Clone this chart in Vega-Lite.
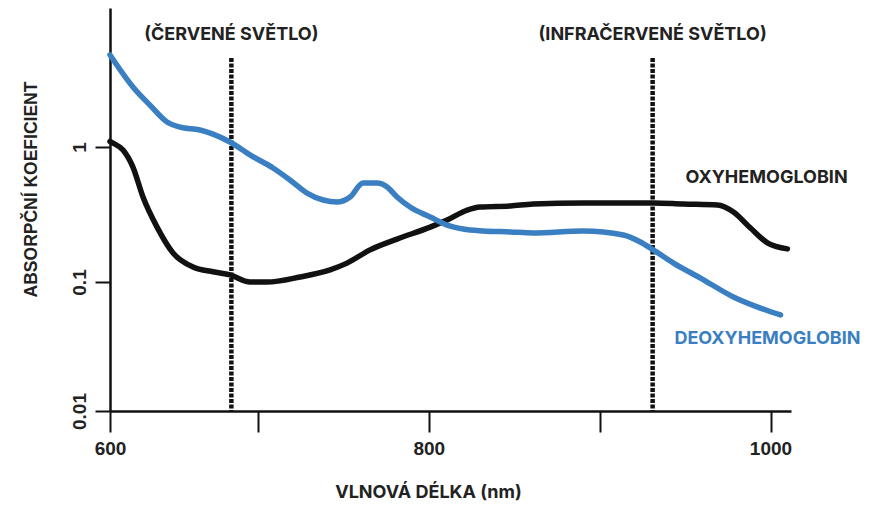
{
  "$schema": "https://vega.github.io/schema/vega-lite/v6.json",
  "width": 681,
  "height": 403,
  "autosize": "none",
  "padding": {"left": 110, "top": 8, "right": 95, "bottom": 96},
  "background": "white",
  "config": {"view": {"stroke": null}},
  "datasets": {
    "curves": [
      {"wavelength": 600, "absorbance": 1.10, "series": "Oxy"},
      {"wavelength": 602, "absorbance": 1.07, "series": "Oxy"},
      {"wavelength": 608.8, "absorbance": 0.95, "series": "Oxy"},
      {"wavelength": 615.5, "absorbance": 0.71, "series": "Oxy"},
      {"wavelength": 622.3, "absorbance": 0.426, "series": "Oxy"},
      {"wavelength": 631.8, "absorbance": 0.255, "series": "Oxy"},
      {"wavelength": 642.6, "absorbance": 0.164, "series": "Oxy"},
      {"wavelength": 656.1, "absorbance": 0.129, "series": "Oxy"},
      {"wavelength": 669.6, "absorbance": 0.119, "series": "Oxy"},
      {"wavelength": 681.1, "absorbance": 0.113, "series": "Oxy"},
      {"wavelength": 694.6, "absorbance": 0.100, "series": "Oxy"},
      {"wavelength": 705.3, "absorbance": 0.100, "series": "Oxy"},
      {"wavelength": 724.6, "absorbance": 0.109, "series": "Oxy"},
      {"wavelength": 742.2, "absorbance": 0.123, "series": "Oxy"},
      {"wavelength": 752.1, "absorbance": 0.138, "series": "Oxy"},
      {"wavelength": 765.6, "absorbance": 0.173, "series": "Oxy"},
      {"wavelength": 781.4, "absorbance": 0.208, "series": "Oxy"},
      {"wavelength": 800.8, "absorbance": 0.255, "series": "Oxy"},
      {"wavelength": 810.7, "absorbance": 0.288, "series": "Oxy"},
      {"wavelength": 822.5, "absorbance": 0.341, "series": "Oxy"},
      {"wavelength": 830, "absorbance": 0.359, "series": "Oxy"},
      {"wavelength": 847.7, "absorbance": 0.366, "series": "Oxy"},
      {"wavelength": 861.1, "absorbance": 0.378, "series": "Oxy"},
      {"wavelength": 890.4, "absorbance": 0.385, "series": "Oxy"},
      {"wavelength": 916.2, "absorbance": 0.385, "series": "Oxy"},
      {"wavelength": 931.4, "absorbance": 0.385, "series": "Oxy"},
      {"wavelength": 949, "absorbance": 0.378, "series": "Oxy"},
      {"wavelength": 968.9, "absorbance": 0.372, "series": "Oxy"},
      {"wavelength": 978.3, "absorbance": 0.330, "series": "Oxy"},
      {"wavelength": 988.3, "absorbance": 0.251, "series": "Oxy"},
      {"wavelength": 998.2, "absorbance": 0.195, "series": "Oxy"},
      {"wavelength": 1009.9, "absorbance": 0.176, "series": "Oxy"},
      {"wavelength": 600, "absorbance": 4.9, "series": "Deoxy"},
      {"wavelength": 615.5, "absorbance": 2.82, "series": "Deoxy"},
      {"wavelength": 627, "absorbance": 2.06, "series": "Deoxy"},
      {"wavelength": 638.5, "absorbance": 1.54, "series": "Deoxy"},
      {"wavelength": 647.3, "absorbance": 1.41, "series": "Deoxy"},
      {"wavelength": 660.8, "absorbance": 1.34, "series": "Deoxy"},
      {"wavelength": 669.6, "absorbance": 1.25, "series": "Deoxy"},
      {"wavelength": 681.1, "absorbance": 1.09, "series": "Deoxy"},
      {"wavelength": 694.6, "absorbance": 0.873, "series": "Deoxy"},
      {"wavelength": 708.8, "absorbance": 0.699, "series": "Deoxy"},
      {"wavelength": 718.7, "absorbance": 0.570, "series": "Deoxy"},
      {"wavelength": 728.7, "absorbance": 0.456, "series": "Deoxy"},
      {"wavelength": 738.1, "absorbance": 0.405, "series": "Deoxy"},
      {"wavelength": 746.3, "absorbance": 0.391, "series": "Deoxy"},
      {"wavelength": 753.9, "absorbance": 0.426, "series": "Deoxy"},
      {"wavelength": 761.5, "absorbance": 0.541, "series": "Deoxy"},
      {"wavelength": 769.7, "absorbance": 0.541, "series": "Deoxy"},
      {"wavelength": 775.6, "absorbance": 0.506, "series": "Deoxy"},
      {"wavelength": 781.4, "absorbance": 0.426, "series": "Deoxy"},
      {"wavelength": 789, "absorbance": 0.359, "series": "Deoxy"},
      {"wavelength": 800.8, "absorbance": 0.303, "series": "Deoxy"},
      {"wavelength": 810.7, "absorbance": 0.264, "series": "Deoxy"},
      {"wavelength": 820.1, "absorbance": 0.247, "series": "Deoxy"},
      {"wavelength": 831.8, "absorbance": 0.239, "series": "Deoxy"},
      {"wavelength": 847.7, "absorbance": 0.235, "series": "Deoxy"},
      {"wavelength": 861.1, "absorbance": 0.231, "series": "Deoxy"},
      {"wavelength": 890.4, "absorbance": 0.239, "series": "Deoxy"},
      {"wavelength": 913.9, "absorbance": 0.223, "series": "Deoxy"},
      {"wavelength": 923.8, "absorbance": 0.198, "series": "Deoxy"},
      {"wavelength": 931.4, "absorbance": 0.173, "series": "Deoxy"},
      {"wavelength": 943.2, "absorbance": 0.138, "series": "Deoxy"},
      {"wavelength": 959, "absorbance": 0.107, "series": "Deoxy"},
      {"wavelength": 978.3, "absorbance": 0.0766, "series": "Deoxy"},
      {"wavelength": 994.1, "absorbance": 0.0628, "series": "Deoxy"},
      {"wavelength": 1005.9, "absorbance": 0.0555, "series": "Deoxy"}
    ],
    "markers": [
      {"wavelength": 682, "top": 4.64, "bottom": 0.01},
      {"wavelength": 931, "top": 4.64, "bottom": 0.01}
    ],
    "labels": [
      {"text": "(ČERVENÉ SVĚTLO)", "wavelength": 682, "value": 6.9, "series": "Oxy"},
      {"text": "(INFRAČERVENÉ SVĚTLO)", "wavelength": 931, "value": 6.9, "series": "Oxy"},
      {"text": "OXYHEMOGLOBIN", "wavelength": 997.7, "value": 0.589, "series": "Oxy"},
      {"text": "DEOXYHEMOGLOBIN", "wavelength": 998.2, "value": 0.0361, "series": "Deoxy"}
    ]
  },
  "encoding": {
    "x": {
      "field": "wavelength",
      "type": "quantitative",
      "scale": {"domain": [600, 700, 1012], "range": [0, 148, 681], "nice": false, "zero": false},
      "axis": {
        "title": "VLNOVÁ DÉLKA (nm)",
        "values": [600, 700, 800, 900, 1000],
        "labelExpr": "datum.value == 700 || datum.value == 900 ? '' : datum.label",
        "format": "d",
        "grid": false,
        "domainColor": "#111111",
        "domainWidth": 2.5,
        "tickColor": "#111111",
        "tickWidth": 2,
        "tickSize": 21,
        "labelFont": "Liberation Sans",
        "labelFontWeight": "bold",
        "labelFontSize": 19,
        "labelColor": "#222222",
        "labelPadding": 7,
        "labelFlush": false,
        "labelOverlap": false,
        "titleFont": "Inter",
        "titleFontWeight": "bold",
        "titleFontSize": 18,
        "titleColor": "#222222",
        "titleX": 318,
        "titleY": 81,
        "titleAlign": "center",
        "titleBaseline": "middle",
        "titleAnchor": null
      }
    },
    "y": {
      "type": "quantitative",
      "scale": {"type": "log", "domain": [0.01, 0.1, 1, 11], "range": [403, 274, 139, 0], "nice": false},
      "axis": {
        "title": "ABSORPČNÍ KOEFICIENT",
        "values": [0.01, 0.1, 1],
        "format": "~g",
        "grid": false,
        "domainColor": "#111111",
        "domainWidth": 2.5,
        "tickColor": "#111111",
        "tickWidth": 2,
        "tickSize": 15,
        "labelAngle": 270,
        "labelFont": "Liberation Sans",
        "labelFontWeight": "bold",
        "labelFontSize": 19,
        "labelColor": "#222222",
        "labelPadding": 6,
        "labelOverlap": false,
        "titleFont": "Liberation Sans",
        "titleFontWeight": "bold",
        "titleFontSize": 17.5,
        "titleColor": "#222222",
        "titleX": -79,
        "titleY": 181,
        "titleAlign": "center",
        "titleBaseline": "middle",
        "titleAngle": 270
      }
    }
  },
  "layer": [
    {
      "data": {"name": "markers"},
      "mark": {"type": "rule", "color": "#111111", "strokeWidth": 4.5, "strokeDash": [4, 1.5]},
      "encoding": {
        "y": {"field": "top", "type": "quantitative"},
        "y2": {"field": "bottom"}
      }
    },
    {
      "data": {"name": "curves"},
      "mark": {"type": "line", "interpolate": "monotone", "strokeWidth": 5.5, "strokeCap": "round", "strokeJoin": "round"},
      "encoding": {
        "y": {"field": "absorbance", "type": "quantitative"},
        "color": {
          "field": "series",
          "type": "nominal",
          "scale": {"domain": ["Oxy", "Deoxy"], "range": ["#111111", "#3a7fc1"]},
          "legend": null
        },
        "detail": {"field": "series"}
      }
    },
    {
      "data": {"name": "labels"},
      "mark": {"type": "text", "font": "Inter", "fontWeight": "bold", "fontSize": 18, "align": "center", "baseline": "middle"},
      "encoding": {
        "y": {"field": "value", "type": "quantitative"},
        "text": {"field": "text"},
        "color": {
          "field": "series",
          "type": "nominal",
          "scale": {"domain": ["Oxy", "Deoxy"], "range": ["#222222", "#3a7fc1"]},
          "legend": null
        }
      }
    }
  ],
  "resolve": {"scale": {"color": "independent"}}
}
